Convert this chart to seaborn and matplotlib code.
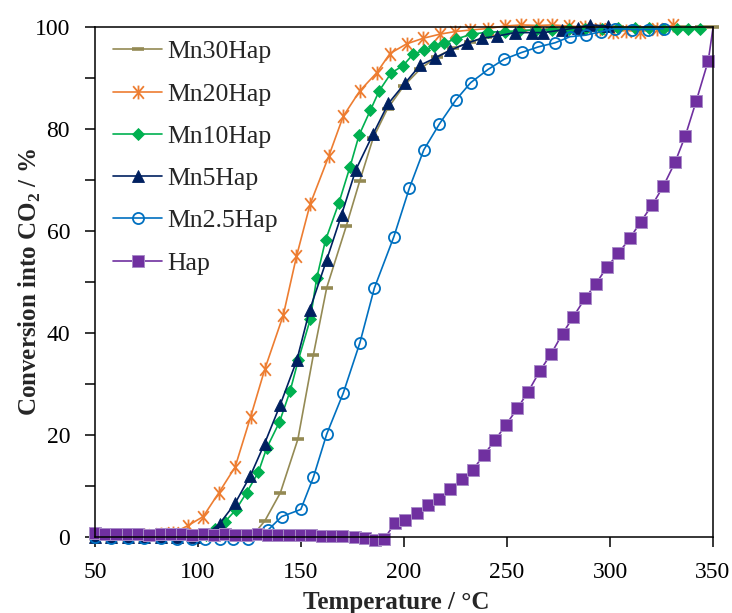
import numpy as np
import pandas as pd
import matplotlib
matplotlib.use("Agg")
import matplotlib.pyplot as plt
from matplotlib.path import Path
from matplotlib.ticker import MultipleLocator
import seaborn as sns

# ---- light-off curves: temperature (°C) vs conversion into CO2 (%) ----
mn30_T = [50, 58, 66, 74, 82, 90, 98, 106, 114, 122, 127, 132.5, 140, 148.5, 156, 162.5,
          172, 178.5, 185, 192, 200, 208, 216, 224, 232, 240, 248, 256, 264, 272, 280,
          288, 296, 304, 312, 320, 328, 336, 344, 350]
mn30_X = [0.0, 0.0, 0.0, 0.0, 0.0, 0.0, 0.0, 0.0, 0.0, 0.0, 0.5, 3.2, 8.7, 19.2, 35.7, 48.9,
          61.0, 69.8, 78.2, 84.0, 88.5, 91.8, 94.2, 95.8, 97.0, 98.0, 98.7, 99.2, 99.5, 99.7, 99.8,
          100, 100, 100, 100, 100, 100, 100, 100, 100]

mn20_T = [50, 58, 66, 74, 82, 88, 95, 102.5, 110, 118, 125.5, 132.5, 141.4, 147.8, 154.4,
          163.5, 170.5, 178.6, 186.7, 193.2, 201.3, 209.4, 217.5, 224.8, 232, 240.8, 249,
          257, 265, 272, 280, 288, 295, 301.5, 308, 314.6, 323, 330.7]
mn20_X = [0.5, 0.3, 0.3, 0.3, 0.5, 0.8, 2.2, 4.0, 8.6, 13.7, 23.5, 33.0, 43.5, 55.0, 65.2,
          74.7, 82.5, 87.5, 91.0, 94.8, 96.7, 97.8, 98.6, 99.1, 99.4, 99.7, 100.2,
          100.4, 100.3, 100.4, 100.2, 100.0, 99.6, 99.1, 99.3, 99.1, 99.6, 100.4]

mn10_T = [50, 58, 66, 74, 82, 90, 98, 104, 108.3, 113.1, 118.3, 123.6, 129.3, 133.3, 139.5,
          144.7, 148.7, 154.5, 157.6, 161.9, 168.3, 173.8, 178.2, 183.7, 188, 193.8, 199.5,
          204.5, 209.5, 214.5, 219.5, 225, 232.9, 240.9, 249, 256, 264, 272, 280, 288, 296,
          304, 312, 319, 325.9, 332.3, 338, 343.7]
mn10_X = [0.0, 0.0, 0.0, 0.0, 0.0, 0.0, 0.0, 0.3, 1.5, 3.0, 5.3, 8.7, 12.7, 17.4, 22.5,
          28.6, 34.7, 42.7, 50.7, 58.2, 65.4, 72.6, 78.8, 83.7, 87.5, 91.0, 92.4,
          94.7, 95.4, 96.2, 96.9, 97.6, 98.6, 99.0, 99.1, 99.3, 99.4, 99.5, 99.6, 99.7, 99.7,
          99.8, 99.8, 99.8, 99.7, 99.7, 99.7, 99.7]

mn5_T = [50, 58, 66, 74, 82, 90, 98, 104, 110.5, 118, 125.4, 132.3, 139.8, 148, 154.2, 162.5,
         169.7, 176.6, 185.1, 192.4, 200.5, 207.8, 215, 222.3, 230.4, 237.7, 245, 253.9,
         262, 267.6, 276.5, 284.6, 290.3, 299.2]
mn5_X = [0.0, 0.0, 0.0, 0.0, 0.0, 0.0, 0.0, 0.5, 2.6, 6.6, 12.0, 18.3, 25.8, 34.7, 44.5, 54.4,
         63.2, 72.0, 79.1, 85.0, 89.0, 92.5, 93.9, 95.4, 96.8, 97.8, 98.2, 98.9,
         98.9, 98.9, 99.4, 99.9, 100.4, 100.2]

mn25_T = [50, 58, 66, 74, 82, 90, 97, 103.4, 110.7, 117, 124.3, 134.1, 140.6, 149.9, 156,
          162.5, 170.5, 178.6, 185.6, 195.1, 202.6, 209.6, 217.2, 225.2, 232.4, 240.9, 248.7,
          257.1, 265.2, 273.3, 280.6, 288.3, 295.6, 302.4, 310.8, 318.6, 326]
mn25_X = [0.0, -0.2, -0.2, -0.2, -0.2, -0.3, -0.3, -0.3, -0.4, -0.4, -0.3, 1.4, 4.0, 5.4, 11.7,
          20.2, 28.2, 38.1, 48.8, 58.9, 68.4, 75.9, 81.0, 85.7, 89.1, 91.7, 93.7,
          95.0, 96.1, 96.9, 98.1, 98.4, 99.1, 99.7, 99.5, 99.5, 99.7]

hap_T = [50, 55, 60, 66, 71, 76, 82, 87, 92, 97, 103, 108, 113, 118, 124, 129, 134, 139, 144,
         150, 155, 160, 165, 170, 176, 181, 186, 190.5, 195.6, 200.5, 206.1, 211.5, 217, 222.3,
         228, 233.3, 238.8, 244.2, 249.5, 255, 260.3, 266, 271.4, 277, 282.2, 287.9, 293.2,
         298.7, 304, 309.7, 314.9, 320.5, 325.9, 331.6, 336.6, 341.8, 347.7, 350]
hap_X = [0.8, 0.6, 0.6, 0.5, 0.6, 0.4, 0.5, 0.5, 0.6, 0.4, 0.5, 0.4, 0.5, 0.4, 0.4, 0.5, 0.3, 0.4, 0.3,
         0.3, 0.3, 0.2, 0.2, 0.1, 0.0, -0.2, -0.5, -0.3, 2.7, 3.3, 4.8, 6.3, 7.4, 9.5,
         11.3, 13.1, 16.1, 19.0, 22.0, 25.2, 28.5, 32.6, 35.9, 39.9, 43.2, 46.8, 49.7,
         53.0, 55.6, 58.6, 61.8, 65.1, 68.8, 73.5, 78.7, 85.4, 93.4, 99.8]

# ---- styling ----
sns.set_style("ticks")
plt.rcParams["font.family"] = ["Liberation Serif", "DejaVu Serif"]
plt.rcParams["mathtext.fontset"] = "custom"
plt.rcParams["mathtext.rm"] = "Liberation Serif"
plt.rcParams["mathtext.bf"] = "Liberation Serif:bold"

# asterisk-like marker: an X crossed by a vertical bar
star = Path([(-0.85, -1), (0.85, 1), (-0.85, 1), (0.85, -1), (0, -1.1), (0, 1.1)],
            [Path.MOVETO, Path.LINETO, Path.MOVETO, Path.LINETO, Path.MOVETO, Path.LINETO])

fig = plt.figure(figsize=(7.32, 6.13), dpi=100)
ax = fig.add_axes([95 / 732, 1 - 537 / 613, (713 - 95) / 732, (537 - 27) / 613])

lw = 1.2
series = [
    ("Mn30Hap", mn30_T, mn30_X, dict(color="#948A54", marker="_", markersize=8,
                                      markeredgewidth=2.6, markeredgecolor="#948A54")),
    ("Mn20Hap", mn20_T, mn20_X, dict(color="#ED7D31", marker=star, markersize=10,
                                      markeredgewidth=1.3, markeredgecolor="#ED7D31",
                                      markerfacecolor="none")),
    ("Mn10Hap", mn10_T, mn10_X, dict(color="#00B050", marker="D", markersize=6.5,
                                      markeredgewidth=0.6, markeredgecolor="#00B050")),
    ("Mn5Hap", mn5_T, mn5_X, dict(color="#002060", marker="^", markersize=8.5,
                                   markeredgewidth=0.6, markeredgecolor="#002060")),
    ("Mn2.5Hap", mn25_T, mn25_X, dict(color="#0070C0", marker="o", markersize=8,
                                       markeredgewidth=1.3, markeredgecolor="#0070C0",
                                       markerfacecolor="none")),
    ("Hap", hap_T, hap_X, dict(color="#7030A0", marker="s", markersize=9,
                                markeredgewidth=0.7, markeredgecolor="#A98CC8",
                                markevery=list(range(len(hap_T) - 1)))),
]

for name, T, X, style in series:
    df = pd.DataFrame({"T": T, "X": X})
    sns.lineplot(data=df, x="T", y="X", ax=ax, sort=False, estimator=None,
                 linewidth=lw, label=name, clip_on=False, **style)

ax.set_xlim(50, 350)
ax.set_ylim(0, 100)
ax.xaxis.set_major_locator(MultipleLocator(50))
ax.yaxis.set_major_locator(MultipleLocator(20))
ax.yaxis.set_minor_locator(MultipleLocator(10))
ax.tick_params(which="both", direction="out", length=7, width=1.1, color="black")
ax.tick_params(which="major", pad=11, labelsize=17, labelcolor="black")

for side in ["top", "right", "bottom", "left"]:
    ax.spines[side].set_visible(True)
    ax.spines[side].set_linewidth(1.1)
    ax.spines[side].set_color("black")

ax.set_xlabel("Temperature / °C", fontsize=18, fontweight="bold")
ax.set_ylabel(r"Conversion into CO$_\mathbf{2}$ / %", fontsize=18, fontweight="bold")
ax.xaxis.set_label_coords(0.487, -0.106)
ax.yaxis.set_label_coords(-0.084, 0.5)

leg = ax.legend(loc="upper left", bbox_to_anchor=(0.008, 1.0), frameon=False,
                fontsize=18.5, handlelength=1.9, handletextpad=0.2,
                labelspacing=0.75, borderaxespad=0.12, numpoints=1)

fig.savefig("out.png", dpi=100)
